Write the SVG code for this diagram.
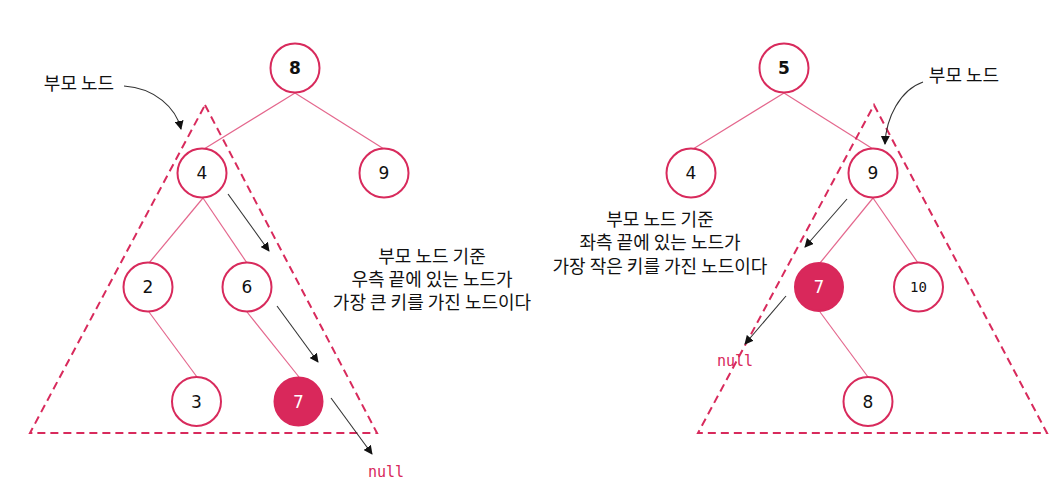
<svg xmlns="http://www.w3.org/2000/svg" width="1057" height="487" viewBox="0 0 1057 487">
<defs>
<marker id="ah" viewBox="0 0 10 10" refX="9" refY="5" markerWidth="9" markerHeight="9" markerUnits="userSpaceOnUse" orient="auto">
<path d="M0,0 L10,5 L0,10 z" fill="#111"/>
</marker>
<style>
.n{fill:#fff;stroke:#D82A5C;stroke-width:2}
.nf{fill:#D9285B;stroke:#D9285B;stroke-width:2}
.e{stroke:#E4678D;stroke-width:1.2;fill:none}
.tri{fill:none;stroke:#D82A5C;stroke-width:2;stroke-dasharray:8 5}
.ar{stroke:#333;stroke-width:1.1;fill:none;marker-end:url(#ah)}
.d{font-family:"DejaVu Sans","Noto Sans",sans-serif;font-size:17px;fill:#111;text-anchor:middle;dominant-baseline:central}
.b{font-weight:bold}
.w{fill:#fff}
.m{font-family:"DejaVu Sans Mono","Liberation Mono",monospace;font-size:14px}
.k{font-family:"Noto Sans CJK KR","Noto Sans",sans-serif;font-size:18px;fill:#111;text-anchor:middle}
.nl{font-family:"DejaVu Sans Mono","Liberation Mono",monospace;font-size:15px;fill:#D82A5C}
</style>
</defs>
<rect width="1057" height="487" fill="#fff"/>
<g id="connectors">
<line class="e" x1="295" y1="93" x2="204" y2="149"/>
<line class="e" x1="295" y1="93" x2="384" y2="149"/>
<line class="e" x1="203" y1="198" x2="149" y2="263"/>
<line class="e" x1="203" y1="198" x2="247" y2="263"/>
<line class="e" x1="149" y1="312" x2="197" y2="377"/>
<line class="e" x1="247" y1="312" x2="299" y2="377"/>
<line class="e" x1="784" y1="93" x2="693" y2="149"/>
<line class="e" x1="784" y1="93" x2="873" y2="149"/>
<line class="e" x1="873" y1="198" x2="820" y2="263"/>
<line class="e" x1="873" y1="198" x2="918" y2="263"/>
<line class="e" x1="820" y1="312" x2="868" y2="377"/>
<polygon class="tri" points="205,105 377,433 30,433"/>
<polygon class="tri" points="874,105 1047,433 698,433"/>
<path class="ar" d="M124,86 C155,88 176,108 181,129"/>
<line class="ar" x1="228" y1="194" x2="269" y2="251"/>
<line class="ar" x1="277" y1="306" x2="318" y2="362"/>
<line class="ar" x1="331" y1="398" x2="372" y2="454"/>
<path class="ar" d="M923,82 C900,90 886,118 885,144"/>
<line class="ar" x1="847" y1="199" x2="805" y2="247"/>
<line class="ar" x1="786" y1="296" x2="745" y2="344"/>
</g>
<g id="node-l8"><circle class="n" cx="295" cy="68" r="24.5"/><text class="d b" x="295" y="68">8</text></g>
<g id="node-l4"><circle class="n" cx="202" cy="173" r="24.5"/><text class="d" x="202" y="173">4</text></g>
<g id="node-l9"><circle class="n" cx="384" cy="173" r="24.5"/><text class="d" x="384" y="173">9</text></g>
<g id="node-l2"><circle class="n" cx="148" cy="287" r="24.5"/><text class="d" x="148" y="287">2</text></g>
<g id="node-l6"><circle class="n" cx="247" cy="287" r="24.5"/><text class="d" x="247" y="287">6</text></g>
<g id="node-l3"><circle class="n" cx="196.5" cy="401.5" r="24.5"/><text class="d" x="196.5" y="401.5">3</text></g>
<g id="node-l7"><circle class="nf" cx="298.5" cy="401.5" r="24"/><text class="d w" x="298.5" y="401.5">7</text></g>
<g id="node-r5"><circle class="n" cx="784" cy="68" r="24.5"/><text class="d b" x="784" y="68">5</text></g>
<g id="node-r4"><circle class="n" cx="691" cy="173" r="24.5"/><text class="d" x="691" y="173">4</text></g>
<g id="node-r9"><circle class="n" cx="873" cy="173" r="24.5"/><text class="d" x="873" y="173">9</text></g>
<g id="node-r7"><circle class="nf" cx="819" cy="287" r="24"/><text class="d w" x="819" y="287">7</text></g>
<g id="node-r10"><circle class="n" cx="918.5" cy="287" r="24.5"/><text class="d m" x="918.5" y="287">10</text></g>
<g id="node-r8"><circle class="n" cx="868" cy="401.5" r="24.5"/><text class="d" x="868" y="401.5">8</text></g>
<g id="labels">
<text class="k" x="79" y="90">부모 노드</text>
<text class="k" x="964" y="82">부모 노드</text>
<text class="k" x="432" y="263">부모 노드 기준</text>
<text class="k" x="432" y="286">우측 끝에 있는 노드가</text>
<text class="k" x="432" y="309">가장 큰 키를 가진 노드이다</text>
<text class="k" x="660" y="226">부모 노드 기준</text>
<text class="k" x="660" y="249">좌측 끝에 있는 노드가</text>
<text class="k" x="660" y="273">가장 작은 키를 가진 노드이다</text>
<text class="nl" x="368" y="477">null</text>
<text class="nl" x="717" y="366">null</text>
</g>
</svg>
